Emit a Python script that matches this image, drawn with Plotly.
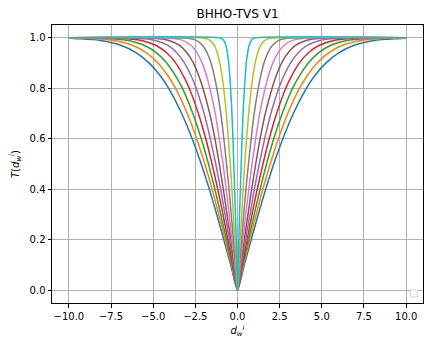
import plotly.graph_objects as go

# Transfer-function levels (T values), right half (x >= 0); left half mirrors
levels = [0.0, 0.1, 0.2, 0.3, 0.4, 0.5, 0.6, 0.7, 0.8, 0.85, 0.9, 0.94, 0.97, 0.99, 0.998]

# x positions (d_w^i >= 0) where each curve reaches the levels above
curve_1 = [0, 0.40, 0.81, 1.23, 1.67, 2.15, 2.69, 3.31, 4.09, 4.59, 5.25, 6.00, 6.92, 8.22, 9.86]
curve_2 = [0, 0.36, 0.73, 1.11, 1.50, 1.94, 2.42, 2.98, 3.68, 4.14, 4.72, 5.40, 6.23, 7.40, 8.88]
curve_3 = [0, 0.32, 0.65, 0.99, 1.34, 1.72, 2.15, 2.65, 3.27, 3.68, 4.20, 4.80, 5.54, 6.58, 7.89]
curve_4 = [0, 0.28, 0.57, 0.86, 1.17, 1.51, 1.88, 2.32, 2.86, 3.22, 3.67, 4.20, 4.85, 5.75, 6.90]
curve_5 = [0, 0.24, 0.48, 0.74, 1.00, 1.29, 1.61, 1.98, 2.45, 2.76, 3.15, 3.60, 4.15, 4.93, 5.92]
curve_6 = [0, 0.20, 0.40, 0.62, 0.84, 1.08, 1.34, 1.65, 2.05, 2.30, 2.62, 3.00, 3.46, 4.11, 4.93]
curve_7 = [0, 0.16, 0.32, 0.49, 0.67, 0.86, 1.08, 1.32, 1.64, 1.84, 2.10, 2.40, 2.77, 3.29, 3.95]
curve_8 = [0, 0.12, 0.24, 0.37, 0.50, 0.65, 0.81, 0.99, 1.23, 1.38, 1.57, 1.80, 2.08, 2.47, 2.96]
curve_9 = [0, 0.08, 0.16, 0.25, 0.33, 0.43, 0.54, 0.66, 0.82, 0.92, 1.05, 1.20, 1.38, 1.64, 1.97]
curve_10 = [0, 0.04, 0.08, 0.12, 0.17, 0.22, 0.27, 0.33, 0.41, 0.46, 0.52, 0.60, 0.69, 0.82, 0.99]

x_limit = 10.0
curves = [curve_1, curve_2, curve_3, curve_4, curve_5, curve_6, curve_7, curve_8, curve_9, curve_10]

x_ticks = [-10.0, -7.5, -5.0, -2.5, 0.0, 2.5, 5.0, 7.5, 10.0]
x_tick_labels = ["\u221210.0", "\u22127.5", "\u22125.0", "\u22122.5", "0.0", "2.5", "5.0", "7.5", "10.0"]
y_ticks = [0.0, 0.2, 0.4, 0.6, 0.8, 1.0]
y_tick_labels = ["0.0", "0.2", "0.4", "0.6", "0.8", "1.0"]

colors = ["#1f77b4", "#ff7f0e", "#2ca02c", "#d62728", "#9467bd",
          "#8c564b", "#e377c2", "#7f7f7f", "#bcbd22", "#17becf"]

fig = go.Figure()
for xs, c in zip(curves, colors):
    full_x = [-x_limit] + [-v for v in reversed(xs)] + xs[1:] + [x_limit]
    full_y = [1.0] + list(reversed(levels)) + levels[1:] + [1.0]
    fig.add_trace(go.Scatter(x=full_x, y=full_y, mode="lines",
                             line=dict(color=c, width=1.5, shape="spline", smoothing=0.6),
                             showlegend=False, hoverinfo="skip"))

font_family = "DejaVu Sans"
axis_common = dict(showline=True, linecolor="black", linewidth=1, mirror=True,
                   ticks="outside", ticklen=3.5, tickwidth=0.8, tickcolor="black",
                   showgrid=True, gridcolor="#b0b0b0", gridwidth=0.8, zeroline=False,
                   tickfont=dict(family=font_family, size=10, color="black"))

fig.update_layout(
    width=424, height=340,
    margin=dict(l=52, r=1, t=25, b=37),
    paper_bgcolor="white", plot_bgcolor="white",
    font=dict(family=font_family, size=10, color="black"),
    title=dict(text="BHHO-TVS V1", x=0.5, xref="paper", y=1 - 14 / 340, yref="container",
               xanchor="center", yanchor="middle",
               font=dict(family=font_family, size=12, color="black")),
    xaxis=dict(range=[-11, 11], tickvals=x_ticks, ticktext=x_tick_labels,
               title=dict(text="<i>d</i><sub><i>w</i></sub><sup><i>i</i></sup>", standoff=6,
                          font=dict(family=font_family, size=10)),
               **axis_common),
    yaxis=dict(range=[-0.05, 1.05], tickvals=y_ticks, ticktext=y_tick_labels,
               title=dict(text="<i>T</i>(<i>d</i><sub><i>w</i></sub><sup><i>i</i></sup>)", standoff=8,
                          font=dict(family=font_family, size=10)),
               **axis_common),
    shapes=[dict(type="rect", xref="paper", yref="paper",
                 x0=0.966, x1=0.985, y0=0.022, y1=0.047,
                 line=dict(color="#cccccc", width=0.8), fillcolor="white", layer="above")],
)

fig.write_html("out.html")
